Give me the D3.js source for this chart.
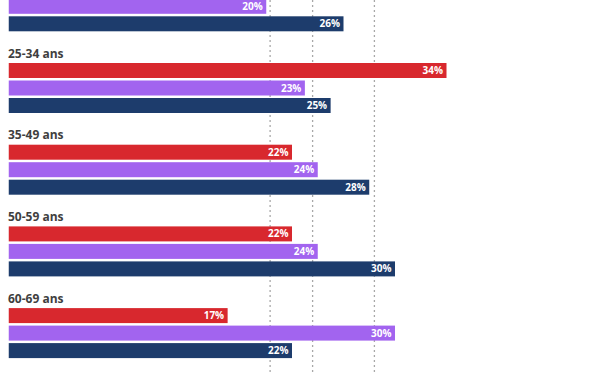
<!DOCTYPE html>
<html>
<head>
<meta charset="utf-8">
<script src="https://cdn.jsdelivr.net/npm/d3@7"></script>
<style>
  body { margin: 0; background: #fff; }
  svg { display: block; }
</style>
</head>
<body>
<div id="chart"></div>
<script>
// age groups; the first one is cut off at the top of the picture,
// only its last two bars show, so its label and red value are unknown
var groups = ["", "25-34 ans", "35-49 ans", "50-59 ans", "60-69 ans"];
var series = ["rouge", "violet", "bleu"];
var redValues = [null, 34, 22, 22, 17];
var purpleValues = [20, 23, 24, 24, 30];
var navyValues = [26, 25, 28, 30, 22];
// dotted reference lines (average per series)
var refLines = [20.3, 23.6, 28.4];

function init() {
  var w = 600;
  var h = 372;
  var groupStep = 81.7;
  var firstTop = -18.7;

  var svg = d3
    .select("#chart")
    .append("svg")
    .attr("width", w)
    .attr("height", h);

  var colors = d3
    .scaleOrdinal()
    .domain(series)
    .range(["#d8282e", "#a264ef", "#1d3c6c"]);

  var x = d3.scaleLinear().domain([0, 34]).range([8.75, 446.5]);

  var y0 = d3
    .scaleBand()
    .domain(d3.range(groups.length))
    .range([firstTop, firstTop + groupStep * groups.length]);

  var y1 = d3
    .scaleBand()
    .domain(series)
    .range([0, 50])
    .paddingInner(2.5 / 17.5)
    .paddingOuter(0);

  var rows = groups.map(function (g, i) {
    return {
      index: i,
      group: g,
      values: [
        { key: "rouge", value: redValues[i] },
        { key: "violet", value: purpleValues[i] },
        { key: "bleu", value: navyValues[i] },
      ].filter((v) => v.value != null),
    };
  });

  // reference lines
  svg
    .selectAll(".ref")
    .data(refLines)
    .enter()
    .append("line")
    .attr("class", "ref")
    .attr("x1", (d) => x(d))
    .attr("x2", (d) => x(d))
    .attr("y1", 0)
    .attr("y2", h)
    .attr("stroke", "#a8a8a8")
    .attr("stroke-width", 1.3)
    .attr("stroke-dasharray", "2,3");

  var g = svg
    .selectAll(".group")
    .data(rows)
    .enter()
    .append("g")
    .attr("class", "group")
    .attr("transform", (d) => "translate(0," + y0(d.index) + ")");

  // group label
  g.filter((d) => d.group !== "")
    .append("text")
    .attr("x", 8)
    .attr("y", -5.5)
    .attr("font-family", "'Open Sans', sans-serif")
    .attr("font-size", "12px")
    .attr("font-weight", "bold")
    .attr("fill", "#3f3f3f")
    .text((d) => d.group);

  var bar = g
    .selectAll(".bar")
    .data((d) => d.values)
    .enter()
    .append("g")
    .attr("class", "bar");

  bar
    .append("rect")
    .attr("x", x(0))
    .attr("y", (d) => y1(d.key))
    .attr("width", (d) => x(d.value) - x(0))
    .attr("height", y1.bandwidth())
    .attr("fill", (d) => colors(d.key));

  bar
    .append("text")
    .attr("x", (d) => x(d.value) - 3.5)
    .attr("y", (d) => y1(d.key) + y1.bandwidth() / 2)
    .attr("dy", "0.36em")
    .attr("text-anchor", "end")
    .attr("font-family", "'Open Sans', sans-serif")
    .attr("font-size", "10px")
    .attr("font-weight", "bold")
    .attr("fill", "#fff")
    .text((d) => d.value + "%");
}

window.onload = init;
</script>
</body>
</html>
